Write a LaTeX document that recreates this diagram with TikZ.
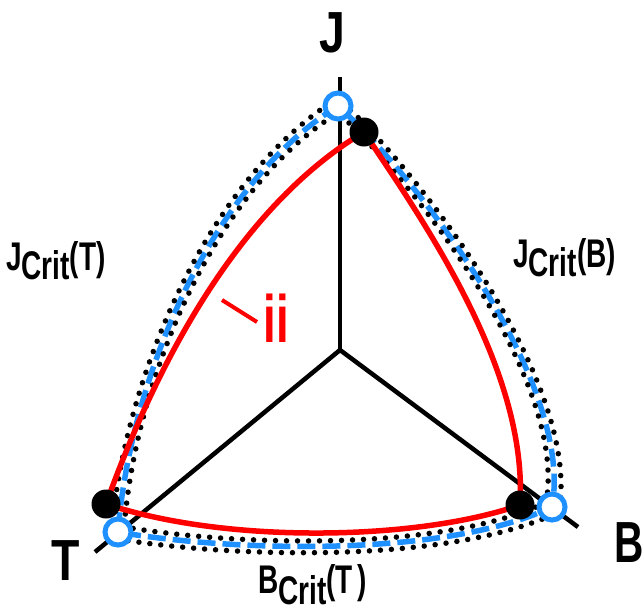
\documentclass[tikz,border=0pt]{standalone}
\usepackage{fontspec}
\usepackage{graphicx}
\setmainfont{Liberation Sans}
\definecolor{bl}{RGB}{30,144,255}
\newcommand\cond[2][0.72]{\scalebox{#1}[1]{#2}}
\begin{document}
\begin{tikzpicture}[x=1pt,y=-1pt,
  axis/.style={line width=4.5pt},
  redc/.style={draw=red, line width=5.5pt, line join=round},
  bluec/.style={draw=bl, line width=5.5pt, dash pattern=on 18pt off 7pt},
  dotc/.style={draw=black, line width=5.5pt, line cap=round, dash pattern=on 0pt off 11pt},
  hollow/.style={circle, draw=bl, line width=5pt, fill=white, minimum size=26pt, inner sep=0pt},
  bdot/.style={circle, fill=black, minimum size=29pt, inner sep=0pt},
  big/.style={font=\fontsize{58}{60}\selectfont\bfseries, inner sep=0pt},
  lbl/.style={font=\fontsize{40}{42}\selectfont\bfseries, inner sep=0pt}
]
\fill[white] (0,0) rectangle (642,611);
\useasboundingbox (0,0) rectangle (642,611);

% axes
\coordinate (O) at (340,350);
\coordinate (Jend) at (340,77);
\coordinate (Tend) at (95,552);
\coordinate (Bend) at (578,527);
\draw[axis] (O) -- (Jend);
\draw[axis] (O) -- (Tend);
\draw[axis] (O) -- (Bend);

% key points
\coordinate (cJ) at (338,106);
\coordinate (cT) at (118,532);
\coordinate (cB) at (552,507);
\coordinate (dJ) at (364,132);
\coordinate (dT) at (106,504);
\coordinate (dB) at (520,505);

% blue dashed boundary
\draw[bluec] (cJ) .. controls (210,185) and (130,380) .. (cT)
  .. controls (220,550) and (440,560) .. (cB)
  .. controls (575,380) and (410,170) .. (cJ);

% dotted rows along the blue boundary
\foreach \s/\ph in {1.032/0pt,0.972/5pt}{
\begin{scope}[shift={(340,350)}, scale=\s, shift={(-340,-350)}]
\draw[dotc, dash phase=\ph] (338,106) .. controls (210,185) and (130,380) .. (118,532)
  .. controls (220,550) and (440,560) .. (552,507)
  .. controls (575,380) and (410,170) .. (338,106);
\end{scope}}

% red curve
\draw[redc] (dJ) .. controls (250,200) and (165,340) .. (dT)
  .. controls (230,545) and (420,540) .. (dB)
  .. controls (528,370) and (424,222) .. (dJ);

% markers
\node[hollow] (hJ) at (cJ) {};
\node[hollow] (hT) at (cT) {};
\node[hollow] (hB) at (cB) {};
\node[bdot] (bJ) at (dJ) {};
\node[bdot] (bT) at (dT) {};
\node[bdot] (bB) at (dB) {};

% axis letters
\node[big, anchor=base] (labJ) at (332,52) {\cond[0.8]{J}};
\node[big, anchor=base] (labT) at (66,580) {\cond[0.8]{T}};
\node[big, anchor=base west] (labB) at (614,562) {\cond[0.7]{B}};

% curve labels
\node[lbl, anchor=base west] (jct) at (6,270) {\cond[0.7]{J\raisebox{-9pt}{Crit}(T)}};
\node[lbl, anchor=base west] (jcb) at (513,267) {\cond[0.7]{J\raisebox{-9pt}{Crit}(B)}};
\node[lbl, anchor=base west] (bct) at (258,593) {\cond[0.7]{B\raisebox{-11pt}{Crit}(T\,)}};

% ii label with leader
\node[anchor=base, text=red, font=\fontsize{67}{69}\selectfont\bfseries, inner sep=0pt] (ii) at (276,342) {\cond[0.68]{ii}};
\coordinate (iiA) at (257,322);
\coordinate (iiB) at (222,300);
\draw[red, line width=4pt] (iiA) -- (iiB);
\end{tikzpicture}
\end{document}
